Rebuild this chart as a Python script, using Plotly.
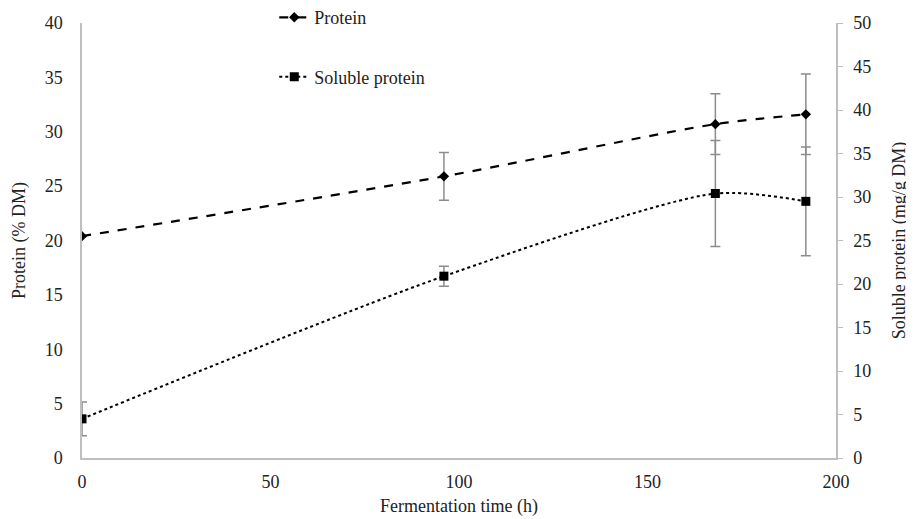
import plotly.graph_objects as go

time_h = [0, 96, 168, 192]
protein = [20.4, 25.9, 30.7, 31.6]
protein_err = [0.0, 2.2, 2.8, 3.7]
soluble = [4.5, 20.9, 30.4, 29.5]
soluble_err = [1.95, 1.15, 6.1, 6.25]

x_ticks = [0, 50, 100, 150, 200]
y1_ticks = [0, 5, 10, 15, 20, 25, 30, 35, 40]
y2_ticks = [0, 5, 10, 15, 20, 25, 30, 35, 40, 45, 50]

FONT = "Times New Roman, Liberation Serif, serif"
AX = "#bfbfbf"
ERR = "#8c8c8c"
FS = 18

fig = go.Figure()
fig.add_trace(go.Scatter(
    x=time_h, y=protein, name="Protein", yaxis="y",
    mode="lines+markers", legendgroup="a",
    line=dict(color="black", width=2.2, dash="dash", shape="spline", smoothing=0.8),
    marker=dict(symbol="diamond", size=8, color="black"),
    error_y=dict(type="data", array=protein_err, color=ERR, thickness=1.5, width=5),
))
fig.add_trace(go.Scatter(
    x=time_h, y=soluble, name="Soluble protein", yaxis="y2",
    mode="lines+markers", legendgroup="b",
    line=dict(color="black", width=2, dash="dot", shape="spline", smoothing=0.75),
    marker=dict(symbol="square", size=9, color="black"),
    error_y=dict(type="data", array=soluble_err, color=ERR, thickness=1.5, width=5),
))

fig.update_layout(
    width=906, height=511,
    margin=dict(l=74, r=78, t=15, b=61, autoexpand=False),
    paper_bgcolor="white", plot_bgcolor="white",
    font=dict(family=FONT, size=FS, color="#222222"),
    showlegend=True,
    legend=dict(x=0.255, y=1.055, xanchor="left", yanchor="top",
                bgcolor="rgba(0,0,0,0)", tracegroupgap=33,
                font=dict(family=FONT, size=FS)),
    xaxis=dict(range=[0, 200], tickvals=x_ticks, showgrid=False, zeroline=False,
               showline=True, linecolor=AX, linewidth=1.5, ticks="",
               automargin=False, ticklabelstandoff=7,
               title=dict(text="Fermentation time (h)", standoff=8,
                          font=dict(family=FONT, size=FS))),
    yaxis=dict(range=[0, 40], tickvals=y1_ticks, showgrid=False, zeroline=False,
               showline=True, linecolor=AX, linewidth=1.5, ticks="",
               automargin=False, ticklabelstandoff=14,
               title=dict(text="Protein (% DM)", standoff=14,
                          font=dict(family=FONT, size=FS))),
    yaxis2=dict(range=[0, 50], tickvals=y2_ticks, overlaying="y", side="right",
                showgrid=False, zeroline=False, showline=True, linecolor=AX,
                linewidth=1.5, ticks="outside", ticklen=5, tickcolor=AX,
                automargin=False, ticklabelstandoff=7,
                title=dict(text="Soluble protein (mg/g DM)", standoff=22,
                           font=dict(family=FONT, size=FS))),
)

fig.write_html("out.html")
